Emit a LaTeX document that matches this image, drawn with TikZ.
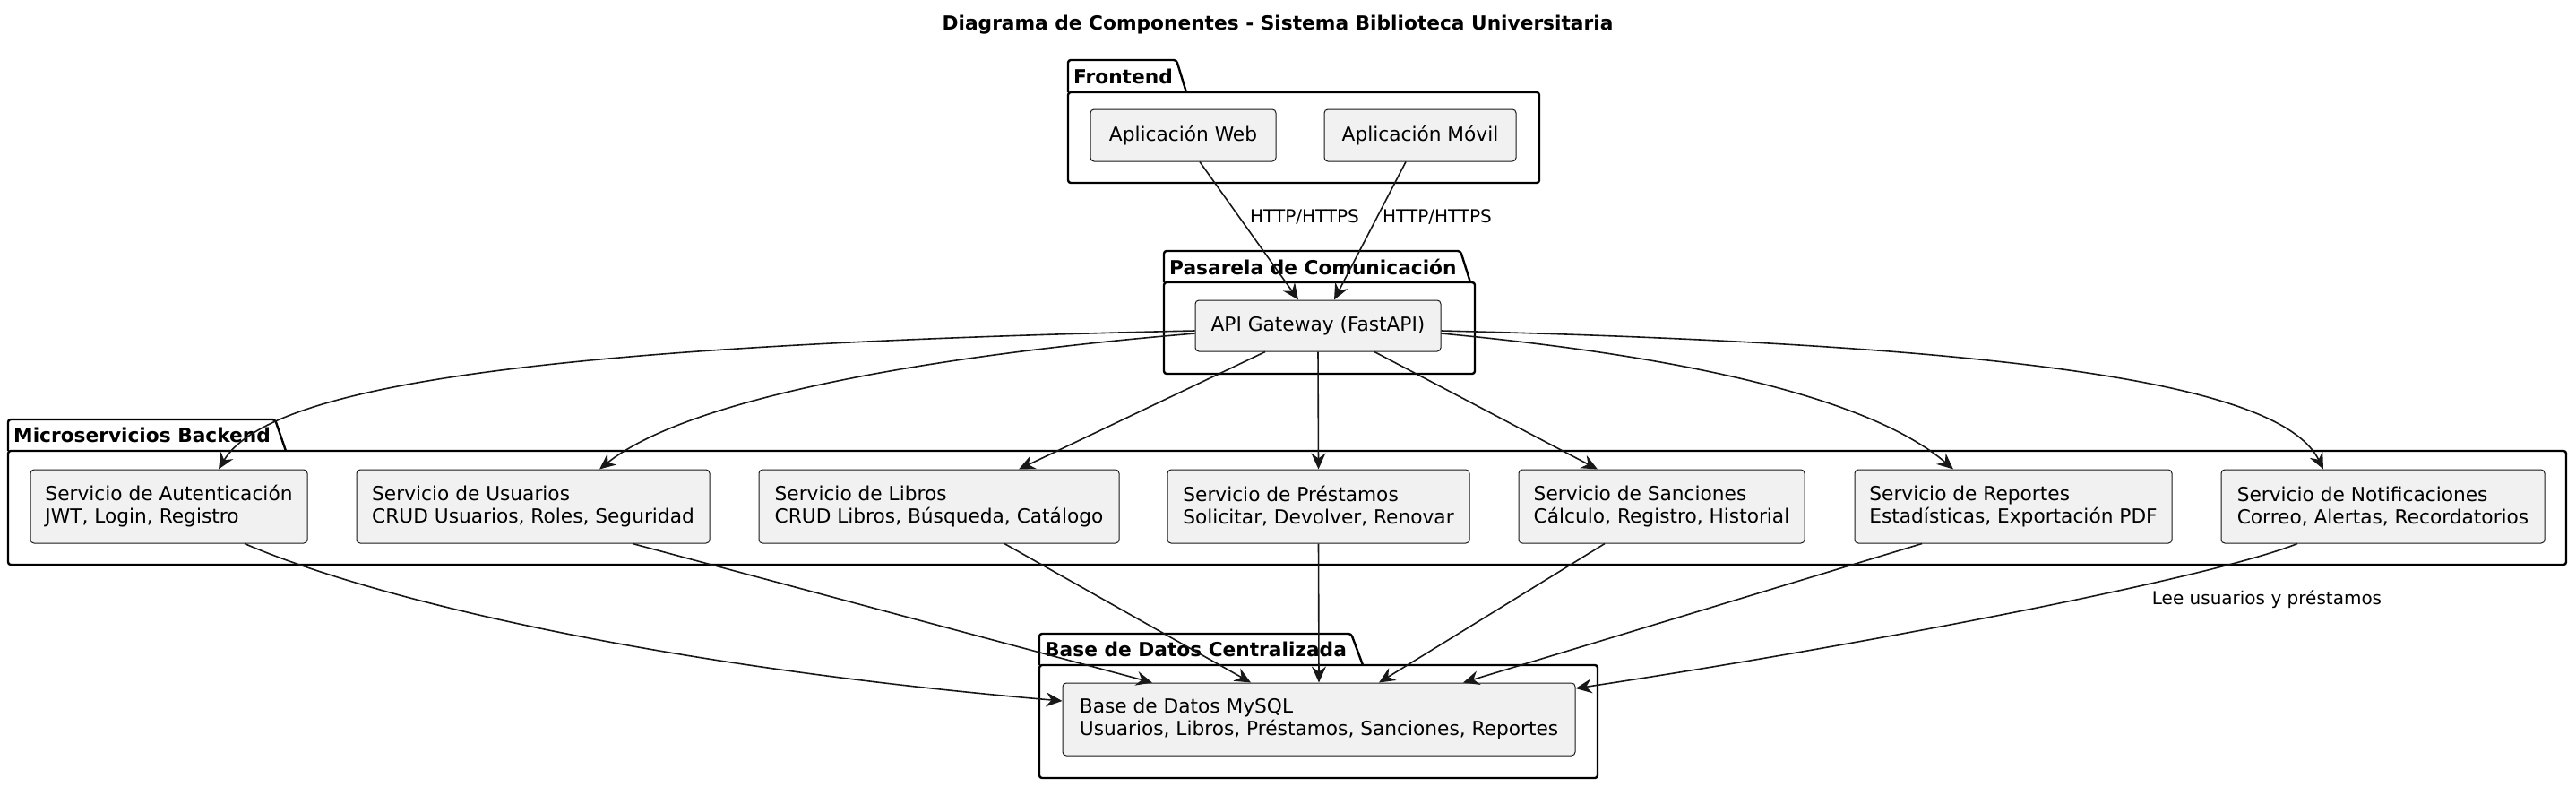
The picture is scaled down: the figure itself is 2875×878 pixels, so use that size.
\documentclass[tikz,border=0pt]{standalone}
\usepackage{fontspec}
\setmainfont{DejaVu Sans}
\usetikzlibrary{arrows.meta, positioning}
\definecolor{compfill}{HTML}{F1F1F1}
\definecolor{compline}{HTML}{181818}

\begin{document}
\begin{tikzpicture}[x=1pt, y=-1pt,
    comp/.style={draw=compline, fill=compfill, line width=1pt, rounded corners=4pt,
      align=left, inner sep=0pt, font=\fontsize{21.7}{25}\selectfont},
    pkg/.style={line width=2.4pt, rounded corners=3pt, line join=round},
    pkglbl/.style={anchor=west, inner sep=0pt, font=\fontsize{21.7}{25}\selectfont\bfseries},
    flow/.style={-{Stealth[length=18pt, width=16pt, inset=6pt]}, line width=1.6pt, draw=compline},
    lbl/.style={inner sep=0pt, font=\fontsize{20}{24}\selectfont}]

  \useasboundingbox (0,0) rectangle (2875,878);

  \node[font=\fontsize{21.7}{25}\selectfont\bfseries] (title) at (1426,28)
    {Diagrama de Componentes - Sistema Biblioteca Universitaria};

  % packages
  \foreach \xl/\yt/\ym/\xr/\yb/\ta/\tb/\nm/\txt in {
      1192/67/103/1718/204/1313/1324/front/Frontend,
      1299/280/315/1646/417/1630/1641/pasarela/Pasarela de Comunicación,
      9/468/503/2864/630/307/319/micro/Microservicios Backend,
      1160/707/742/1783/868/1508/1521/datos/Base de Datos Centralizada}{
    \draw[pkg] (\xl,\ym) -- (\xl,\yt) -- (\ta,\yt) -- (\tb,\ym);
    \draw[pkg] (\xl,\ym) rectangle (\xr,\yb);
    \node[pkglbl] (\nm) at ({\xl+6},{(\yt+\ym)/2}) {\txt};
  }

  % components
  \node[comp, minimum width=207pt, minimum height=58pt] (web) at (1320.5,151) {Aplicación Web};
  \node[comp, minimum width=214pt, minimum height=58pt] (movil) at (1585,151) {Aplicación Móvil};
  \node[comp, minimum width=274pt, minimum height=57pt] (gw) at (1471,363.5) {API Gateway (FastAPI)};

  \node[comp, minimum width=309pt, minimum height=82pt] (aut) at (188.5,565)
    {Servicio de Autenticación\\JWT, Login, Registro};
  \node[comp, minimum width=394pt, minimum height=82pt] (usu) at (595,565)
    {Servicio de Usuarios\\CRUD Usuarios, Roles, Seguridad};
  \node[comp, minimum width=402pt, minimum height=82pt] (lib) at (1048,565)
    {Servicio de Libros\\CRUD Libros, Búsqueda, Catálogo};
  \node[comp, minimum width=337pt, minimum height=82pt] (pre) at (1471.5,565)
    {Servicio de Préstamos\\Solicitar, Devolver, Renovar};
  \node[comp, minimum width=319pt, minimum height=82pt] (san) at (1854.5,565)
    {Servicio de Sanciones\\Cálculo, Registro, Historial};
  \node[comp, minimum width=354pt, minimum height=82pt] (rep) at (2247,565)
    {Servicio de Reportes\\Estadísticas, Exportación PDF};
  \node[comp, minimum width=361pt, minimum height=82pt] (noti) at (2659.5,565)
    {Servicio de Notificaciones\\Correo, Alertas, Recordatorios};

  \node[comp, minimum width=572pt, minimum height=81pt] (db) at (1472,802.5)
    {Base de Datos MySQL\\Usuarios, Libros, Préstamos, Sanciones, Reportes};

  % frontend -> gateway
  \draw[flow] ([xshift=18.5pt]web.south) -- ([xshift=-22pt]gw.north);
  \draw[flow] ([xshift=-16pt]movil.south) -- ([xshift=18pt]gw.north);
  \node[lbl] (httpweb) at (1456,242) {HTTP/HTTPS};
  \node[lbl] (httpmovil) at (1604,242) {HTTP/HTTPS};

  % gateway -> services
  \draw[flow] ([yshift=-5.5pt]gw.west) .. controls +(-734,16) and +(56,-93) .. ([xshift=55.5pt]aut.north);
  \draw[flow] ([yshift=-8.5pt]gw.west) .. controls +(-334,28) and +(91,-73) .. ([xshift=74pt]usu.north);
  \draw[flow] ([xshift=-59pt]gw.south) -- ([xshift=89pt]lib.north);
  \draw[flow] (gw.south) -- (pre.north);
  \draw[flow] ([xshift=63pt]gw.south) -- ([xshift=-71.5pt]san.north);
  \draw[flow] ([yshift=-8.5pt]gw.east) .. controls +(300,28) and +(-85,-73) .. ([xshift=-67pt]rep.north);
  \draw[flow] ([yshift=-5.5pt]gw.east) .. controls +(660,16) and +(-46,-93) .. ([xshift=-66.5pt]noti.north);

  % services -> database
  \draw[flow] ([xshift=84.5pt]aut.south) .. controls +(127,55) and +(-486,-42) .. ([yshift=20.5pt]db.west);
  \draw[flow] ([xshift=111pt]usu.south) -- ([xshift=-186pt]db.north);
  \draw[flow] ([xshift=73pt]lib.south) -- ([xshift=-76pt]db.north);
  \draw[flow] (pre.south) -- (db.north);
  \draw[flow] ([xshift=-63.5pt]san.south) -- ([xshift=67pt]db.north);
  \draw[flow] ([xshift=-102pt]rep.south) -- ([xshift=161pt]db.north);
  \draw[flow] ([xshift=-95.5pt]noti.south) .. controls +(-100,40) and +(300,-45) .. ([yshift=34.5pt]db.east);
  \node[lbl] (leelbl) at (2530,669) {Lee usuarios y préstamos};
\end{tikzpicture}
\end{document}
